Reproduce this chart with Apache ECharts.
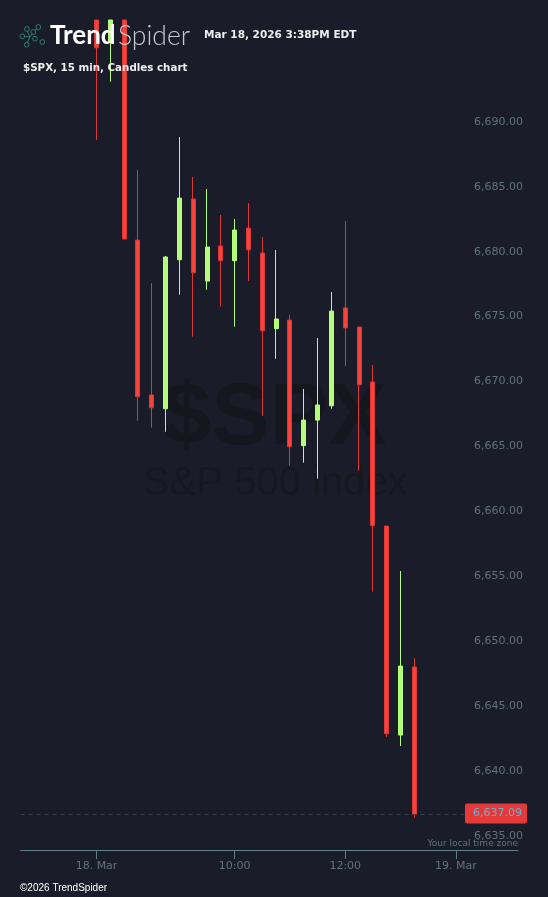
<!DOCTYPE html>
<html>
<head>
<meta charset="utf-8">
<style>
  html, body { margin: 0; padding: 0; background: #1a1d29; }
  #chart { width: 548px; height: 897px; }
</style>
<script src="https://cdn.jsdelivr.net/npm/echarts@6/dist/echarts.min.js"></script>
</head>
<body>
<div id="chart"></div>
<script>
// one slot per 15 min candle, blank slots carry no tick
const categories = ['', '', '', '', '', '18. Mar', '', '', '', '', '', '', '', '', '', '10:00', '', '', '', '', '', '', '', '12:00', '', '', '', '', '', '', '', '19. Mar', '', '', '', ''];
const firstCandleSlot = 5;
// first three candles run off the top of the picture, so they stop at the axis max
const opens = [6698.26, 6696.56, 6698.26, 6681.32, 6669.39, 6668.33, 6679.8, 6684.48, 6678.16, 6680.86, 6679.73, 6682.24, 6680.32, 6674.49, 6675.16, 6665.49, 6667.46, 6668.56, 6676.09, 6674.62, 6670.39, 6659.3, 6643.21, 6648.45];
const closes = [6696.12, 6698.26, 6681.4, 6669.26, 6668.41, 6680.01, 6684.55, 6678.8, 6680.78, 6679.73, 6682.09, 6680.57, 6674.34, 6675.24, 6665.41, 6667.46, 6668.62, 6675.85, 6674.55, 6670.18, 6659.33, 6643.31, 6648.52, 6637.09];
const lows = [6689.02, 6693.51, 6681.4, 6667.41, 6666.87, 6666.56, 6677.11, 6673.88, 6677.49, 6676.19, 6674.65, 6678.16, 6667.79, 6672.18, 6663.95, 6664.18, 6662.95, 6668.33, 6671.64, 6663.56, 6654.25, 6643.06, 6642.37, 6636.85];
const highs = [6698.26, 6698.26, 6698.26, 6686.71, 6678.01, 6680.09, 6689.25, 6686.17, 6685.25, 6683.25, 6682.94, 6684.17, 6681.55, 6680.55, 6675.55, 6669.85, 6673.78, 6677.32, 6682.78, 6674.62, 6671.7, 6659.3, 6655.84, 6649.12];
const priceTicks = [6635, 6640, 6645, 6650, 6655, 6660, 6665, 6670, 6675, 6680, 6685, 6690];
const lastPrice = 6637.09;

const axisFont = 'DejaVu Sans';
const axisColor = '#5f737d';
const logoColor = '#2a7f6b';

const chart = echarts.init(document.getElementById('chart'));

// logo mark, in page pixels
const logoDots = [[22.3, 36.3], [27, 29], [38.3, 27], [33.3, 32], [35, 38.7], [42.3, 42], [26.7, 44.7]];
const logoLines = [[[27, 31], [30, 37], [27, 43]], [[24, 36.5], [30, 37]], [[30, 37], [32.5, 33.5]], [[34.5, 30.5], [37, 28.5]]];

// empty slots in front of the first candle
const candleData = Array(firstCandleSlot).fill('-').concat(
  opens.map((o, i) => [o, closes[i], lows[i], highs[i]])
);

chart.setOption({
  animation: false,
  backgroundColor: '#1a1d29',
  grid: { left: 20.5, top: 20, width: 497.5, height: 830 },
  xAxis: {
    type: 'category',
    data: categories,
    boundaryGap: true,
    axisLine: { lineStyle: { color: '#5f7f8c', width: 1 } },
    axisTick: {
      show: true,
      alignWithLabel: true,
      length: 9,
      lineStyle: { color: '#5f7f8c' },
      interval: (i, name) => name !== ''
    },
    axisLabel: {
      interval: (i, name) => name !== '',
      color: axisColor,
      fontFamily: axisFont,
      fontSize: 11,
      margin: 11
    },
    splitLine: { show: false }
  },
  yAxis: {
    type: 'value',
    position: 'right',
    min: 6634.36,
    max: 6698.26,
    axisLine: { show: false },
    axisTick: { show: false },
    splitLine: { show: false },
    axisLabel: {
      customValues: priceTicks,
      formatter: v => v.toLocaleString('en-US', { minimumFractionDigits: 2 }),
      align: 'right',
      verticalAlign: 'bottom',
      margin: 5,
      color: axisColor,
      fontFamily: axisFont,
      fontSize: 11
    }
  },
  series: [{
    type: 'candlestick',
    barWidth: 4.5,
    clip: true,
    data: candleData,
    itemStyle: {
      color: '#b4fd78',
      borderColor: '#b4fd78',
      color0: '#f8423a',
      borderColor0: '#dc3636',
      borderWidth: 1
    },
    markLine: {
      silent: true,
      symbol: 'none',
      data: [{ yAxis: lastPrice }],
      lineStyle: { color: '#3a3f4a', type: [4, 4], width: 1 },
      label: {
        position: 'end',
        offset: [-58, -1],
        formatter: () => lastPrice.toLocaleString('en-US'),
        backgroundColor: '#e63a3a',
        borderRadius: 2,
        padding: [5, 5, 4, 8],
        color: '#6ab2d2',
        fontFamily: axisFont,
        fontSize: 11
      }
    }
  }],
  graphic: [
    { type: 'text', z: 0, left: 162, top: 376, style: { text: '$SPX', font: 'bold 88px "Liberation Sans"', fill: '#15171f' } },
    { type: 'text', z: 0, left: 143, top: 464, style: { text: 'S&P 500 index', font: '40px "Liberation Sans"', fill: '#16181f' } },
    { type: 'text', z: 5, left: 50, top: 23, style: { text: 'Trend', font: 'bold 26px Lato', fill: '#ffffff' } },
    { type: 'text', z: 5, left: 118, top: 23, style: { text: 'Spider', font: '300 26.5px Lato', fill: '#c9cacd' } },
    { type: 'text', z: 5, left: 204, top: 30, style: { text: 'Mar 18, 2026 3:38PM EDT', font: 'bold 10.5px "DejaVu Sans"', fill: '#eeeeee' } },
    { type: 'text', z: 5, left: 23, top: 63, style: { text: '$SPX, 15 min, Candles chart', font: 'bold 10.3px "DejaVu Sans"', fill: '#eeeeee' } },
    { type: 'text', z: 5, left: 20, top: 883, style: { text: '©2026 TrendSpider', font: '10px "Liberation Sans"', fill: '#ffffff' } },
    { type: 'text', z: 5, right: 30, top: 839, style: { text: 'Your local time zone', font: '9px "DejaVu Sans"', fill: axisColor } }
  ].concat(logoDots.map(d => ({
    type: 'circle', z: 5, shape: { cx: d[0], cy: d[1], r: 2.4 },
    style: { fill: 'none', stroke: logoColor, lineWidth: 1 }
  }))).concat(logoLines.map(l => ({
    type: 'polyline', z: 5, shape: { points: l },
    style: { fill: 'none', stroke: logoColor, lineWidth: 1 }
  })))
});
</script>
</body>
</html>
